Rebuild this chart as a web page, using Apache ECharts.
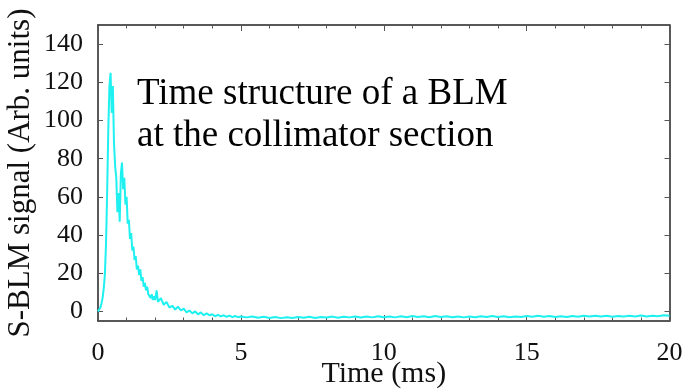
<!DOCTYPE html>
<html>
<head>
<meta charset="utf-8">
<script src="https://cdn.jsdelivr.net/npm/echarts@6/dist/echarts.min.js"></script>
<style>
html,body{margin:0;padding:0;background:#fff;}
#c{width:692px;height:390px;}
</style>
</head>
<body>
<div id="c"></div>
<script>
// Time samples (ms) and S-BLM signal values
var timesA = [0,0.04,0.08,0.12,0.16,0.2,0.24,0.28,0.32,0.36,0.4,0.44,0.48,0.52,0.56,0.6,0.64,0.68,0.72,0.76,0.8,0.84,0.88,0.92,0.96,1.0,1.04,1.08,1.12,1.16,1.2,1.24,1.28,1.32,1.36,1.4,1.44,1.48,1.52,1.56,1.6,1.64,1.68,1.72,1.76,1.8,1.84,1.88,1.92,1.96,2.0];
var signalA = [0,1,2,4,7,12,19,35,62,95,118,125,104,118,88,76,70,52,62,47,72,78,64,70,56,60,46,48,38,41,32,34,27,29,22,24,19,22,16,18,13,15,11,13,9,10,7,9,6,8,6];
var timesB = [2.05,2.1,2.2,2.3,2.4,2.5,2.6,2.7,2.8,2.9,3.0,3.1,3.2,3.3,3.4,3.5,3.6,3.7,3.8,3.9,4.0,4.1,4.2,4.3,4.4,4.5,4.6,4.7,4.8,4.9,5.0];
var signalB = [11,5,7,3.5,5,2,3,1,2.5,0.5,1.5,-0.5,0.5,-1,0,-1.5,-0.5,-2,-1,-2,-1.5,-2.5,-1.8,-2.6,-2,-2.8,-2.2,-3,-2.4,-3,-2.6];
var timesC = [5.2,5.4,5.6,5.8,6.0,6.2,6.4,6.6,6.8,7.0,7.2,7.4,7.6,7.8,8.0,8.2,8.4,8.6,8.8,9.0,9.2,9.4,9.6,9.8,10.0,10.2,10.4,10.6,10.8,11.0,11.2,11.4,11.6,11.8,12.0,12.2,12.4,12.6,12.8,13.0,13.2,13.4,13.6,13.8,14.0,14.2,14.4,14.6,14.8,15.0,15.2,15.4,15.6,15.8,16.0,16.2,16.4,16.6,16.8,17.0,17.2,17.4,17.6,17.8,18.0,18.2,18.4,18.6,18.8,19.0,19.2,19.4,19.6,19.8,20.0];
var signalC = [-3.1,-2.6,-3.3,-2.8,-3.4,-2.9,-3.5,-3.0,-3.4,-2.9,-3.3,-2.8,-3.4,-2.9,-3.2,-2.7,-3.3,-2.8,-3.1,-2.6,-3.2,-2.7,-3.1,-2.5,-3.0,-2.6,-3.1,-2.5,-3.0,-2.4,-2.9,-2.5,-3.0,-2.4,-2.9,-2.5,-3.0,-2.6,-3.1,-2.6,-3.0,-2.5,-2.9,-2.4,-2.9,-2.5,-3.0,-2.6,-2.9,-2.4,-2.8,-2.3,-2.8,-2.4,-2.9,-2.5,-2.9,-2.4,-2.8,-2.3,-2.7,-2.2,-2.7,-2.3,-2.8,-2.4,-2.7,-2.2,-2.6,-2.1,-2.6,-2.2,-2.5,-2.0,-2.3];

var xTickValues = [0,5,10,15,20];
var yTickValues = [0,20,40,60,80,100,120,140];
var annotationLines = ['Time structure of a BLM','at the collimator section'];

var times = timesA.concat(timesB, timesC);
var signal = signalA.concat(signalB, signalC);
var seriesData = times.map(function(t, i){ return [t, signal[i]]; });

var FONT = '"Liberation Serif", "DejaVu Serif", serif';
var frame = {show:true, onZero:false, lineStyle:{color:'#222', width:1.5}};
var tickStyle = {color:'#555', width:1};

var chart = echarts.init(document.getElementById('c'), null, {renderer:'canvas'});
chart.setOption({
  animation:false,
  backgroundColor:'#fff',
  grid:{left:98, right:22.5, top:25, bottom:69, containLabel:false, outerBoundsMode:'none'},
  xAxis:[{
    type:'value', position:'bottom', min:0, max:20, interval:5,
    axisLine:frame,
    axisTick:{show:true, inside:true, length:6, lineStyle:tickStyle},
    minorTick:{show:true, splitNumber:5, length:3.5, lineStyle:tickStyle},
    splitLine:{show:false},
    axisLabel:{show:true, margin:19, color:'#111', fontFamily:FONT, fontSize:26,
      customValues:xTickValues},
    name:'Time (ms)', nameLocation:'middle', nameGap:38, nameMoveOverlap:false,
    nameTextStyle:{color:'#111', fontFamily:FONT, fontSize:30}
  },{
    type:'value', position:'top', min:0, max:20, interval:5,
    axisLine:frame,
    axisTick:{show:true, inside:true, length:6, lineStyle:tickStyle},
    minorTick:{show:true, splitNumber:5, length:3.5, lineStyle:tickStyle},
    splitLine:{show:false}, axisLabel:{show:false}
  }],
  yAxis:[{
    type:'value', position:'left', min:-5, max:150,
    axisLine:frame,
    axisTick:{show:true, inside:true, length:5, customValues:yTickValues, lineStyle:tickStyle},
    splitLine:{show:false},
    axisLabel:{show:true, margin:15, color:'#111', fontFamily:FONT, fontSize:26, customValues:yTickValues},
    name:'S-BLM signal (Arb. units)', nameLocation:'middle', nameRotate:90, nameGap:62, nameMoveOverlap:false,
    nameTextStyle:{color:'#111', fontFamily:FONT, fontSize:31}
  },{
    type:'value', position:'right', min:-5, max:150,
    axisLine:frame,
    axisTick:{show:true, inside:true, length:5, customValues:yTickValues, lineStyle:tickStyle},
    splitLine:{show:false}, axisLabel:{show:false}
  }],
  series:[{
    type:'line', xAxisIndex:0, yAxisIndex:0, data:seriesData,
    showSymbol:false, symbol:'none',
    lineStyle:{color:'#1ff0f0', width:2},
    z:3
  }],
  graphic:[{
    type:'text', left:137, top:73, z:10,
    style:{text:annotationLines.join('\n'), font:'37px ' + FONT, fill:'#000', lineHeight:42}
  }]
});
</script>
</body>
</html>
